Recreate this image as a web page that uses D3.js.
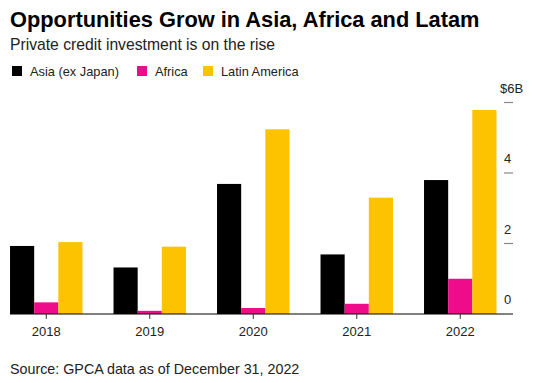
<!DOCTYPE html>
<html><head><meta charset="utf-8">
<script src="https://cdn.jsdelivr.net/npm/d3@7"></script>
<style>body{margin:0;background:#fff}svg{display:block;font-family:"Liberation Sans",Arial,sans-serif}</style>
</head><body><svg id="c" width="536" height="383"></svg>
<script>
const years = ["2018","2019","2020","2021","2022"];
const seriesNames = ["Asia (ex Japan)","Africa","Latin America"];
const asia = [1.93,1.32,3.69,1.69,3.80];
const africa = [0.33,0.09,0.17,0.29,1.00];
const latam = [2.04,1.91,5.24,3.30,5.79];
const yTicks = [0,2,4,6];
const colors = ["#000000","#ee0c8a","#fdc300"];

const svg = d3.select("#c");
const values = [asia, africa, latam];

svg.append("text").attr("x",10).attr("y",27).attr("font-size",21.8).attr("font-weight","bold").attr("fill","#000")
  .text("Opportunities Grow in Asia, Africa and Latam");
svg.append("text").attr("x",10).attr("y",50).attr("font-size",15.7).attr("fill","#222")
  .text("Private credit investment is on the rise");

// legend
const lg = svg.append("g");
const legX = [12,137,203];
seriesNames.forEach((n,i)=>{
  lg.append("rect").attr("x",legX[i]).attr("y",66).attr("width",10).attr("height",10).attr("fill",colors[i]);
  lg.append("text").attr("x",legX[i]+18).attr("y",76).attr("font-size",12.8).attr("fill","#222").text(n);
});

const x = d3.scaleBand().domain(years).range([-5.5,512]).paddingInner(0.3).paddingOuter(0.15);
const xs = d3.scaleBand().domain(d3.range(3)).range([0,x.bandwidth()]);
const y = d3.scaleLinear().domain([0,6]).range([314,102.5]);

const g = svg.append("g");
years.forEach((yr,j)=>{
  values.forEach((arr,i)=>{
    g.append("rect").attr("x",x(yr)+xs(i)).attr("width",xs.bandwidth())
      .attr("y",y(arr[j])).attr("height",y(0)-y(arr[j])).attr("fill",colors[i]);
  });
});

// baseline
svg.append("line").attr("x1",10).attr("x2",513).attr("y1",y(0)).attr("y2",y(0)).attr("stroke","#000").attr("stroke-width",1);

// x axis
const xa = svg.append("g").attr("transform",`translate(0,${y(0)})`)
  .call(d3.axisBottom(x).tickSize(5).tickPadding(5));
xa.select(".domain").remove();
xa.selectAll("line").attr("stroke","#333");
xa.selectAll("text").attr("font-size",13).attr("fill","#222").attr("font-family","Liberation Sans, Arial, sans-serif").attr("dy","0.95em");

// y axis on right
const ya = svg.append("g");
yTicks.forEach(t=>{
  ya.append("line").attr("x1",504).attr("x2",513).attr("y1",y(t)).attr("y2",y(t)).attr("stroke","#888").attr("stroke-width",1.2);
  ya.append("text").attr("x", t===6?500:504).attr("y",y(t)-10).attr("font-size",13).attr("fill","#222")
    .text(t===6?"$6B":d3.format("d")(t));
});

svg.append("text").attr("x",10).attr("y",374).attr("font-size",14.3).attr("fill","#222")
  .text("Source: GPCA data as of December 31, 2022");
</script></body></html>
